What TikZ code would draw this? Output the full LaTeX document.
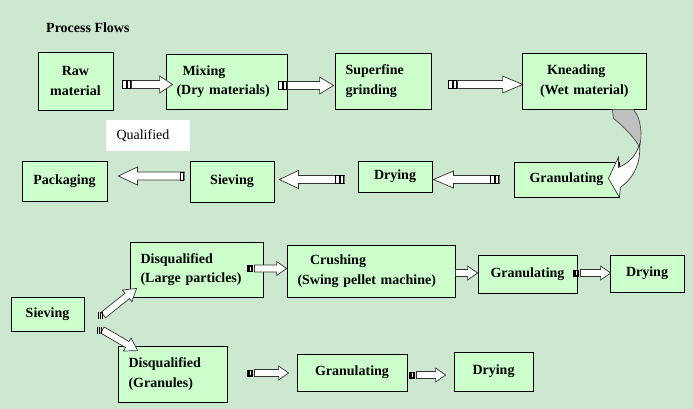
\documentclass[tikz,border=0pt]{standalone}
\usepackage{fontspec}
\setmainfont{Liberation Serif}
\usetikzlibrary{calc}

\definecolor{pagegreen}{RGB}{204,232,207}
\definecolor{boxgreen}{RGB}{204,255,204}
\newcommand{\flowfont}{\fontsize{14}{19.5}\selectfont}

\tikzset{
  pics/twobar/.style={code={
    \draw[tailbar] (-9,-#1) rectangle (-5.5,#1);
    \draw[tailbar] (-4.5,-#1) rectangle (-1,#1);
  }},
  pics/onebar/.style={code={\draw[tailbar] (-4.5,-#1) rectangle (-1,#1);}},
  pics/blackbar/.style={code={
    \fill[black] (-7,-#1) rectangle (-1,#1);
    \draw[white, line width=0.8pt] (-4,-#1+1.5) -- (-4,#1-1.5);
  }},
  pics/hatchbar/.style={code={
    \foreach \k in {1.5,3.5,5.5}
      \draw[line width=0.7pt] (-\k,-#1) -- (-\k,#1);
  }},
  pics/nobar/.style={code={}},
  pics/blockarrow/.style n args={5}{code={
    \path[arrowbody] (0,-#4) -- ({#1-#2},-#4) -- ({#1-#2},-#3) -- (#1,0)
      -- ({#1-#2},#3) -- ({#1-#2},#4) -- (0,#4) -- cycle;
    \pic {#5={#4}};
  }},
}

% striped block arrow: [tail]{from}{to}{head length}{head half width}{shaft half width}
\newcommand{\flowarrow}[6][twobar]{%
  \path let \p1=(#2), \p2=(#3),
    \n1={atan2(\y2-\y1,\x2-\x1)}, \n2={veclen(\x2-\x1,\y2-\y1)} in
    pic[rotate=\n1] at (\p1) {blockarrow={\n2}{#4}{#5}{#6}{#1}};%
}

\begin{document}
\begin{tikzpicture}[x=1pt, y=-1pt,
    box/.style={rectangle, draw=black, line width=0.8pt, fill=boxgreen, inner sep=0pt, align=center, font=\flowfont\bfseries},
    lbox/.style={box, align=left, inner xsep=10.5pt, text width=#1pt},
    boxsize/.style 2 args={minimum width=#1pt, minimum height=#2pt},
    note/.style={rectangle, fill=white, inner sep=0pt, inner xsep=10.5pt, align=left, text width=#1pt, font=\flowfont},
    arrowbody/.style={draw=black!80, fill=white, line width=0.7pt},
    tailbar/.style={draw=black, fill=white, line width=0.7pt},
    curvegray/.style={draw=black!70, fill=black!25, line width=0.7pt}
]
\fill[pagegreen] (0,0) rectangle (693,409);
\useasboundingbox (0,0) rectangle (693,409);

\node (title) [anchor=base west, inner sep=0pt, font=\flowfont\bfseries] at (46,33) {Process Flows};

% first row
\node (raw) [box, boxsize={75}{58}] at (75.5,81) {Raw\\material};
\node (mix) [lbox=100, boxsize={121}{55}] at (226.5,81.5) {\hspace*{6pt}Mixing\\(Dry materials)};
\node (sfg) [lbox=75, boxsize={96}{56}] at (383,81) {Superfine\\grinding};
\node (knead) [lbox=103, boxsize={124}{56}] at (584,81) {\hspace*{14.5pt}Kneading\\ \hspace*{7.5pt}(Wet material)};

% second row
\node (gran) [box, boxsize={105}{35}] at (566.5,179.5) {Granulating};
\node (dry) [box, boxsize={74}{31}] at (395,176.5) {Drying};
\node (sieve) [box, boxsize={84}{41}] at (232,181.5) {Sieving};
\node (pack) [box, boxsize={85}{40}] at (64.5,181) {Packaging};
\node (qual) [note=63, minimum height=31pt] at (148,135.5) {Qualified};

% sieving residue
\node (sieveb) [box, boxsize={73}{34}] at (47.5,314) {Sieving};
\node (disl) [lbox=112, boxsize={133}{55}] at (196.5,269.5) {Disqualified\\(Large particles)};
\node (crush) [lbox=147, boxsize={168}{52}] at (371,271) {\hspace*{12.5pt}Crushing\\(Swing pellet machine)};
\node (grant) [box, boxsize={99}{38}] at (527.5,274) {Granulating};
\node (dryt) [box, boxsize={74}{37}] at (647,273.5) {Drying};
\node (disg) [lbox=88, boxsize={109}{56}] at (172.5,374) {Disqualified\\(Granules)};
\node (granb) [box, boxsize={110}{37}] at (352,372.5) {Granulating};
\node (dryb) [box, boxsize={79}{39}] at (493.5,371.5) {Drying};

% arrows
\flowarrow{[xshift=18pt,yshift=-3.5pt]raw.east}{[xshift=7pt,yshift=-3pt]mix.west}{13}{8.5}{4}
\flowarrow{[yshift=-4pt]mix.east}{[xshift=-1pt,yshift=-4.5pt]sfg.west}{14}{8.5}{4}
\flowarrow{[xshift=26pt,yshift=-3.5pt]sfg.east}{[xshift=1pt,yshift=-3.5pt]knead.west}{20}{8.5}{4}
\flowarrow{[xshift=-14pt]gran.west}{[xshift=1pt,yshift=-3pt]dry.east}{20}{8.5}{4}
\flowarrow{[xshift=-13pt,yshift=-3pt]dry.west}{[xshift=5pt,yshift=2pt]sieve.east}{19}{9}{4}
\flowarrow[onebar]{[xshift=-5pt,yshift=5.5pt]sieve.west}{[xshift=11pt,yshift=5pt]pack.east}{19}{9}{4}

\flowarrow[hatchbar]{[xshift=19pt,yshift=-1pt]sieveb.east}{[xshift=7pt,yshift=9pt]disl.south west}{12}{7.5}{3.5}
\flowarrow[hatchbar]{[xshift=18pt,yshift=-16pt]sieveb.east}{[xshift=20pt,yshift=-5pt]disg.north west}{12}{7.5}{3.5}
\flowarrow[blackbar]{[xshift=-9pt,yshift=1pt]disl.east}{[yshift=2.5pt]crush.west}{10}{7}{3.5}
\flowarrow[nobar]{[yshift=-2pt]crush.east}{[yshift=1pt]grant.west}{10}{7}{3.5}
\flowarrow[blackbar]{[xshift=3pt,yshift=1pt]grant.east}{[xshift=1pt,yshift=0.5pt]dryt.west}{10}{7}{3.5}
\flowarrow[blackbar]{[xshift=27pt,yshift=1pt]disg.east}{[xshift=-8pt,yshift=-0.5pt]granb.west}{10}{7}{3.5}
\flowarrow[blackbar]{[xshift=9pt,yshift=-2.5pt]granb.east}{[xshift=-8pt,yshift=-3.5pt]dryb.west}{10}{7}{3.5}

% curved arrow down to granulating
\begin{scope}[shift={(knead.south east)}]
  \filldraw[curvegray] (-34,0) -- (-13,0) .. controls (-5,9) and (-4,26) .. (-7,38)
    .. controls (-10,30) and (-24,16) .. (-33,9) -- cycle;
  \filldraw[arrowbody] (-7,35) .. controls (-5,53) and (-13,69) .. (-26,78)
    -- (-27,88) -- (-38,69) -- (-28,48) -- (-28,58)
    .. controls (-18,54) and (-10,46) .. (-7,35) -- cycle;
\end{scope}
\end{tikzpicture}
\end{document}
